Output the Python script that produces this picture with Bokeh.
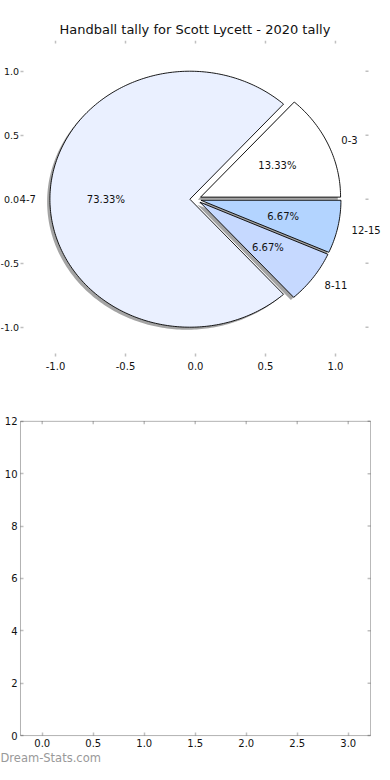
import numpy as np
from bokeh.plotting import figure
from bokeh.models import ColumnDataSource, FixedTicker, Range1d, Title, BoxAnnotation
from bokeh.layouts import column
from bokeh.core.properties import value
from bokeh.embed import file_html
from bokeh.resources import INLINE

# ---------------- data ----------------
chart_title = "Handball tally for Scott Lycett - 2020 tally"
categories = ["0-3", "4-7", "8-11", "12-15"]
counts = [2, 11, 1, 1]
colors = ["#ffffff", "#eaf0ff", "#c6d9ff", "#b3d4ff"]
explode = [0.04, 0.04, 0.04, 0.04]
pie_ticks = [-1.0, -0.5, 0.0, 0.5, 1.0]
pie_xlim = (-1.2536, 1.236)        # axes box of the pie
pie_ylim = (-1.229, 1.240)
bottom_x_ticks = [0.0, 0.5, 1.0, 1.5, 2.0, 2.5, 3.0]
bottom_y_ticks = [0, 2, 4, 6, 8, 10, 12]
bottom_xlim = (-0.213, 3.219)      # axes box of the empty panel
bottom_ylim = (0, 12)
watermark = "Dream-Stats.com"

FONT = "DejaVu Sans"
TICK_COLOR = "#c0c0c0"
TEXT_COLOR = "#111111"

# ---------------- pie geometry ----------------
total = float(sum(counts))
fr = np.array(counts) / total
ends = np.cumsum(fr) * 2 * np.pi
starts = ends - fr * 2 * np.pi
mids = (starts + ends) / 2

wx, wy, sx, sy = [], [], [], []
pct_x, pct_y, pct_t = [], [], []
lab_x, lab_y, lab_align = [], [], []
shadow_dx, shadow_dy = -0.02, -0.02
for a0, a1, m, e, c in zip(starts, ends, mids, explode, counts):
    cx, cy = e * np.cos(m), e * np.sin(m)
    n = max(int(np.degrees(a1 - a0)), 2) + 1
    t = np.linspace(a0, a1, n)
    px = np.concatenate([[cx], cx + np.cos(t)])
    py = np.concatenate([[cy], cy + np.sin(t)])
    wx.append(list(px)); wy.append(list(py))
    sx.append(list(px + shadow_dx)); sy.append(list(py + shadow_dy))
    pct_x.append(cx + 0.6 * np.cos(m)); pct_y.append(cy + 0.6 * np.sin(m))
    pct_t.append(f"{100 * c / total:.2f}%")
    lx = cx + 1.1 * np.cos(m)
    lab_x.append(lx); lab_y.append(cy + 1.1 * np.sin(m))
    lab_align.append("left" if lx > 0 else "right")

wedges = ColumnDataSource(dict(xs=wx, ys=wy, color=colors))
shadows = ColumnDataSource(dict(xs=sx, ys=sy))
pcts = ColumnDataSource(dict(x=pct_x, y=pct_y, text=pct_t))
labs = ColumnDataSource(dict(x=lab_x, y=lab_y, text=categories, align=lab_align))


def style_axis(ax, standoff, size="10px"):
    ax.axis_line_color = None
    ax.major_tick_in = 3
    ax.major_tick_out = 0
    ax.major_tick_line_color = TICK_COLOR
    ax.major_tick_line_width = 1.5
    ax.minor_tick_line_color = None
    ax.major_label_text_font = FONT
    ax.major_label_text_font_size = size
    ax.major_label_text_color = TEXT_COLOR
    ax.major_label_standoff = standoff


def box_ticks(p, xticks, yticks, xright, ytop):
    # inward tick marks on the top and right edges of the axes box
    p.ray(x=list(xticks), y=[ytop] * len(xticks), length=3,
          length_units="screen", angle=-np.pi / 2,
          line_color=TICK_COLOR, line_width=1.5)
    p.ray(x=[xright] * len(yticks), y=list(yticks), length=3,
          length_units="screen", angle=np.pi,
          line_color=TICK_COLOR, line_width=1.5)


# ---------------- top figure (pie) ----------------
p1 = figure(width=382, height=392,
            x_range=Range1d(-1.393, 1.336), y_range=Range1d(*pie_ylim),
            output_backend="svg", toolbar_location=None,
            min_border_left=0, min_border_right=0,
            min_border_top=40, min_border_bottom=36)
p1.add_layout(Title(text=chart_title, align="left", offset=59, standoff=7,
                    text_font=FONT, text_font_size="13px",
                    text_font_style="normal", text_color=TEXT_COLOR), "above")
p1.outline_line_color = None
p1.xgrid.visible = False
p1.ygrid.visible = False

p1.xaxis.ticker = FixedTicker(ticks=pie_ticks)
p1.yaxis.ticker = FixedTicker(ticks=pie_ticks)
p1.xaxis.major_label_overrides = {t: f"{t:.1f}" for t in pie_ticks}
p1.yaxis.major_label_overrides = {t: f"{t:.1f}" for t in pie_ticks}
p1.yaxis.fixed_location = pie_xlim[0]
style_axis(p1.xaxis[0], 5)
style_axis(p1.yaxis[0], 1, "9.5px")
box_ticks(p1, pie_ticks, pie_ticks, pie_xlim[1], pie_ylim[1])

p1.patches("xs", "ys", source=shadows, fill_color="#4a4a4a", fill_alpha=0.5,
           line_color=None)
p1.patches("xs", "ys", source=wedges, fill_color="color", line_color="#000000",
           line_width=0.9)
p1.text("x", "y", text="text", source=pcts, text_font=value(FONT),
        text_font_size="10px", text_align="center", text_baseline="middle",
        text_color=TEXT_COLOR)
p1.text("x", "y", text="text", source=labs, text_font=value(FONT),
        text_font_size="10px", text_align="align", text_baseline="middle",
        text_color=TEXT_COLOR)

# ---------------- bottom figure (empty axes) ----------------
p2 = figure(width=371, height=372,
            x_range=Range1d(-0.409, 3.228), y_range=Range1d(-0.494, 13.101),
            output_backend="svg", toolbar_location=None,
            min_border_left=0, min_border_right=0,
            min_border_top=0, min_border_bottom=14)
p2.outline_line_color = None
p2.xgrid.visible = False
p2.ygrid.visible = False
p2.xaxis.ticker = FixedTicker(ticks=bottom_x_ticks)
p2.yaxis.ticker = FixedTicker(ticks=bottom_y_ticks)
p2.xaxis.major_label_overrides = {t: f"{t:.1f}" for t in bottom_x_ticks}
p2.xaxis.fixed_location = bottom_ylim[0]
p2.yaxis.fixed_location = bottom_xlim[0]
style_axis(p2.xaxis[0], 3)
style_axis(p2.yaxis[0], 3)
box_ticks(p2, bottom_x_ticks, bottom_y_ticks, bottom_xlim[1], bottom_ylim[1])
p2.add_layout(BoxAnnotation(left=bottom_xlim[0], right=bottom_xlim[1],
                            bottom=bottom_ylim[0], top=bottom_ylim[1],
                            fill_color=None, line_color="#000000",
                            line_width=1))

p2.add_layout(Title(text=watermark, align="left", offset=0, standoff=0,
                    text_font=FONT, text_font_size="11.5px",
                    text_font_style="normal", text_color="#999999"), "below")

layout = column(p1, p2, spacing=0)
open("out.html", "w").write(file_html(layout, INLINE))
